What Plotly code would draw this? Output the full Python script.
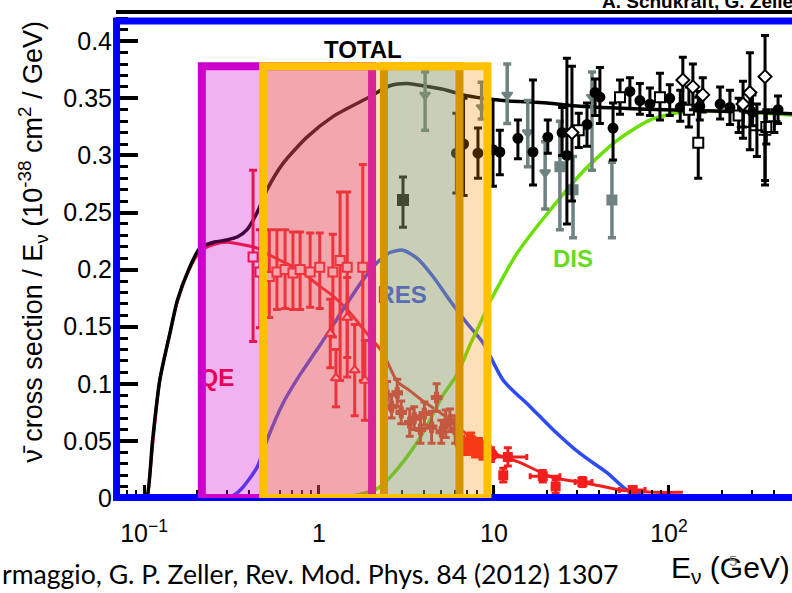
import numpy as np
import plotly.graph_objects as go

# ---------------- theory curves (E in GeV, sigma/E in 1e-38 cm^2/GeV) -------------
total_E = [0.101, 0.104, 0.112, 0.123, 0.141, 0.155, 0.18, 0.209, 0.25, 0.298, 0.345, 0.388,
           0.443, 0.505, 0.623, 0.854, 1.2, 1.88, 2.54, 3.18, 3.93, 5.11, 6.65, 8.65, 11.3,
           20.1, 31.0, 92.4, 178, 431, 600]
total_v = [0.0, 0.001, 0.051, 0.103, 0.145, 0.173, 0.2, 0.219, 0.224, 0.226, 0.229, 0.235,
           0.25, 0.27, 0.293, 0.316, 0.334, 0.35, 0.361, 0.363, 0.361, 0.358, 0.353, 0.35,
           0.348, 0.346, 0.343, 0.340, 0.339, 0.337, 0.336]

qe_E = [0.105, 0.108, 0.113, 0.123, 0.141, 0.155, 0.18, 0.209, 0.25, 0.30, 0.36, 0.44, 0.505,
        0.62, 0.78, 1.0, 1.2, 1.45, 1.88, 2.32, 2.8, 3.3, 3.93, 5.0, 5.83, 7.5, 9.74, 14.1,
        21.7, 34.0, 52.5, 81, 120]
qe_v = [0.0, 0.02, 0.052, 0.103, 0.145, 0.172, 0.199, 0.216, 0.222, 0.224, 0.222, 0.219,
        0.214, 0.207, 0.199, 0.186, 0.177, 0.165, 0.144, 0.127, 0.102, 0.094, 0.085, 0.074,
        0.066, 0.052, 0.040, 0.031, 0.018, 0.013, 0.007, 0.005, 0.005]

res_E = [0.298, 0.331, 0.368, 0.443, 0.505, 0.623, 0.779, 0.974, 1.156, 1.372, 1.784, 2.144,
         2.547, 3.02, 3.63, 4.48, 5.60, 7.01, 8.65, 11.3, 16.1, 21.7, 31.0, 44.4, 57.5, 72.6, 95]
res_v = [0.0, 0.003, 0.0096, 0.027, 0.051, 0.083, 0.108, 0.130, 0.147, 0.165, 0.191, 0.206,
         0.215, 0.217, 0.210, 0.194, 0.173, 0.153, 0.136, 0.103, 0.080, 0.060, 0.039, 0.022,
         0.007, 0.002, 0.0]

dis_E = [1.27, 1.71, 2.14, 2.54, 3.18, 3.93, 5.11, 6.15, 7.29, 8.65, 9.49, 10.8, 13.5, 20.9,
         32.3, 50.4, 77.8, 120, 196, 431, 560]
dis_v = [0.0, 0.003, 0.008, 0.018, 0.036, 0.057, 0.09, 0.108, 0.134, 0.158, 0.172, 0.188,
         0.214, 0.252, 0.286, 0.313, 0.331, 0.338, 0.339, 0.336, 0.335]

# ---------------- data points -------------
qe_sq_E = [0.42, 0.46, 0.52, 0.575, 0.64, 0.71, 0.78, 0.89, 1.01, 1.2, 1.32, 1.45, 1.78]
qe_sq_v = [0.211, 0.198, 0.194, 0.198, 0.200, 0.197, 0.200, 0.198, 0.202, 0.198, 0.208, 0.202, 0.202]
qe_sq_up = [0.076, 0.037, 0.041, 0.037, 0.035, 0.036, 0.033, 0.034, 0.030, 0.033, 0.060, 0.066, 0.090]
qe_sq_dn = [0.074, 0.049, 0.036, 0.033, 0.034, 0.032, 0.035, 0.031, 0.036, 0.057, 0.105, 0.096, 0.099]

qe_tri_E = [1.16, 1.25, 1.45, 1.6, 1.83]
qe_tri_v = [0.144, 0.105, 0.158, 0.112, 0.103]
qe_tri_err = [0.03, 0.025, 0.035, 0.04, 0.035]

mid_E = [2.45, 2.6, 2.8, 2.95, 3.3, 3.5, 3.8, 4.0, 4.4, 4.7, 5.0, 5.3, 5.6, 6.0]
mid_v = [0.09, 0.08, 0.092, 0.075, 0.066, 0.07, 0.06, 0.074, 0.062, 0.088, 0.058, 0.065, 0.068, 0.06]
mid_err = [0.012, 0.01, 0.012, 0.01, 0.012, 0.01, 0.012, 0.01, 0.014, 0.012, 0.01, 0.012, 0.01, 0.012]

hi_circ_E = [6.5, 7.0, 7.4, 7.8, 8.2, 8.6, 9.0, 9.6]
hi_circ_v = [0.048, 0.044, 0.050, 0.042, 0.046, 0.040, 0.043, 0.038]
hi_circ_err = [0.006, 0.006, 0.007, 0.006, 0.006, 0.006, 0.006, 0.006]

hi_sq_E = [11.3, 12.0, 19.0, 22.5, 32.0, 62.0]
hi_sq_v = [0.020, 0.036, 0.019, 0.010, 0.014, 0.007]
hi_sq_err = [0.006, 0.008, 0.005, 0.006, 0.004, 0.003]
hi_sq_xup = [0.0, 3.4, 4.8, 0.0, 4.3, 11.0]
hi_sq_xdn = [0.0, 2.3, 2.9, 0.0, 2.9, 10.0]

blk_circ_E = [6.1, 6.7, 8.1, 9.87, 10.8, 13.7, 16.7, 20.3, 24.5, 26.1, 34.0, 37.8, 40.3, 47.9,
              59.8, 68.2, 77.8, 101, 116, 150, 196, 223, 300, 420]
blk_circ_v = [0.302, 0.31, 0.302, 0.305, 0.303, 0.315, 0.303, 0.316, 0.320, 0.300, 0.327, 0.355,
              0.351, 0.324, 0.356, 0.348, 0.345, 0.350, 0.342, 0.343, 0.345, 0.342, 0.338, 0.34]
blk_circ_up = [0.035, 0.04, 0.022, 0.044, 0.019, 0.016, 0.063, 0.015, 0.022, 0.085, 0.019, 0.012,
               0.026, 0.022, 0.012, 0.015, 0.014, 0.012, 0.015, 0.013, 0.015, 0.015, 0.015, 0.012]
blk_circ_dn = [0.035, 0.045, 0.022, 0.032, 0.020, 0.018, 0.029, 0.014, 0.020, 0.060, 0.019, 0.020,
               0.023, 0.028, 0.015, 0.012, 0.010, 0.015, 0.012, 0.012, 0.013, 0.015, 0.012, 0.012]

blk_sq_E = [3.02, 30.5, 52.5, 88.8, 130, 147, 250, 360]
blk_sq_v = [0.261, 0.322, 0.351, 0.351, 0.34, 0.311, 0.335, 0.325]
blk_sq_up = [0.020, 0.015, 0.015, 0.021, 0.02, 0.040, 0.015, 0.015]
blk_sq_dn = [0.024, 0.015, 0.015, 0.020, 0.015, 0.031, 0.015, 0.015]
blk_sq_fill = ['black', 'white', 'white', 'white', 'white', 'white', 'white', 'white']

blk_dia_E = [27.9, 120, 137, 156, 265, 290, 354]
blk_dia_v = [0.320, 0.366, 0.360, 0.353, 0.345, 0.355, 0.369]
blk_dia_up = [0.058, 0.02, 0.02, 0.015, 0.02, 0.035, 0.036]
blk_dia_dn = [0.06, 0.02, 0.02, 0.015, 0.02, 0.050, 0.095]

blk_x_E = [265, 318, 354, 400]
blk_x_v = [0.325, 0.322, 0.318, 0.33]
blk_x_up = [0.014, 0.023, 0.02, 0.01]
blk_x_dn = [0.01, 0.023, 0.04, 0.01]

gray_tri_E = [4.04, 8.5, 11.9, 15.6, 19.6, 36.3]
gray_tri_v = [0.353, 0.342, 0.353, 0.320, 0.285, 0.351]
gray_tri_up = [0.020, 0.022, 0.027, 0.028, 0.027, 0.022]
gray_tri_dn = [0.031, 0.010, 0.025, 0.030, 0.032, 0.064]

gray_sq_E = [23.8, 28.3, 47.2]
gray_sq_v = [0.290, 0.270, 0.261]
gray_sq_up = [0.040, 0.029, 0.033]
gray_sq_dn = [0.055, 0.042, 0.033]

# energy bands highlighted on the slide (GeV) and their top (sigma/E units)
band_qe = [0.214, 2.01]
band_a = [0.479, 9.18]
band_b = [2.35, 6.35]
band_top = 0.378

x_ticks = [0.1, 1, 10, 100]
x_ticktext = ['10<sup>−1</sup>', '1', '10', '10<sup>2</sup>']
x_minor = [0.08, 0.09, 0.2, 0.3, 0.4, 0.5, 0.6, 0.7, 0.8, 0.9, 2, 3, 4, 5, 6, 7, 8, 9,
           20, 30, 40, 50, 60, 70, 80, 90, 200, 300, 400, 500]
y_ticks = [0, 0.05, 0.1, 0.15, 0.2, 0.25, 0.3, 0.35, 0.4]
y_ticktext = ['0', '0.05', '0.1', '0.15', '0.2', '0.25', '0.3', '0.35', '0.4']

RED = '#F51E1E'
BLUE = '#2D4BF5'
GREEN = '#6AE000'
GRAY = '#6E8282'
FONT = 'Liberation Sans, Arial, sans-serif'

fig = go.Figure()


def curve(E, v, color, width):
    fig.add_trace(go.Scatter(x=E, y=v, mode='lines', hoverinfo='skip',
                             line=dict(color=color, width=width, shape='spline', smoothing=0.7)))


def points(E, v, up, dn, symbol, color, fill, size=8, xup=None, xdn=None, thick=3):
    kw = {}
    if xup is not None:
        kw['error_x'] = dict(type='data', array=xup, arrayminus=xdn, color=color,
                             thickness=thick, width=3)
    fig.add_trace(go.Scatter(
        x=E, y=v, mode='markers', hoverinfo='skip',
        marker=dict(symbol=symbol, color=fill, size=size, line=dict(color=color, width=2)),
        error_y=dict(type='data', array=up, arrayminus=dn, color=color, thickness=thick, width=4),
        **kw))


curve(qe_E, qe_v, RED, 3)
curve(res_E, res_v, BLUE, 3.5)
curve(dis_E, dis_v, GREEN, 3.5)
curve(total_E, total_v, 'black', 3.5)

points(qe_sq_E, qe_sq_v, qe_sq_up, qe_sq_dn, 'square', RED, 'white', 9)
points(qe_tri_E, qe_tri_v, qe_tri_err, qe_tri_err, 'triangle-up', RED, 'white', 9)
points(mid_E, mid_v, mid_err, mid_err, 'cross', RED, RED, 8)
points(hi_circ_E, hi_circ_v, hi_circ_err, hi_circ_err, 'circle', RED, RED, 12)
points(hi_sq_E, hi_sq_v, hi_sq_err, hi_sq_err, 'square', RED, RED, 8, hi_sq_xup, hi_sq_xdn)
points(gray_tri_E, gray_tri_v, gray_tri_up, gray_tri_dn, 'triangle-down', GRAY, GRAY, 9, thick=3.5)
points(gray_sq_E, gray_sq_v, gray_sq_up, gray_sq_dn, 'square', GRAY, GRAY, 9, thick=3.5)
points(blk_circ_E, blk_circ_v, blk_circ_up, blk_circ_dn, 'circle', 'black', 'black', 9)
points(blk_sq_E, blk_sq_v, blk_sq_up, blk_sq_dn, 'square', 'black', blk_sq_fill, 10)
points(blk_dia_E, blk_dia_v, blk_dia_up, blk_dia_dn, 'diamond', 'black', 'white', 10)
points(blk_x_E, blk_x_v, blk_x_up, blk_x_dn, 'cross-thin', 'black', 'black', 9)

# curve labels (traces so that the highlight bands tint them)
labels = [('TOTAL', 1.78, 0.3905, '#000000'), ('QE', 0.261, 0.103, '#F10029'),
          ('RES', 2.98, 0.176, '#2846FA'), ('DIS', 28.3, 0.2075, '#66DD1A')]
for txt, ex, ey, col in labels:
    fig.add_trace(go.Scatter(x=[ex], y=[ey], mode='text', text=['<b>' + txt + '</b>'],
                             textfont=dict(family=FONT, size=24, color=col),
                             textposition='middle center', hoverinfo='skip'))

shapes = [
    # original frame top line
    dict(type='line', xref='paper', yref='paper', x0=0, x1=1, y0=1, y1=1,
         line=dict(color='black', width=4), layer='above'),
    # blue outline drawn over the plot
    dict(type='rect', xref='paper', yref='paper', x0=0.0008, x1=1.05, y0=0.001, y1=0.9815,
         line=dict(color='#0000FF', width=7), fillcolor='rgba(0,0,0,0)', layer='above'),
    dict(type='rect', xref='x', yref='y', x0=band_qe[0], x1=band_qe[1], y0=0, y1=band_top,
         line=dict(color='#CC00CC', width=8), fillcolor='rgba(204,0,204,0.30)', layer='above'),
    dict(type='rect', xref='x', yref='y', x0=band_b[0], x1=band_b[1], y0=0, y1=band_top,
         line=dict(color='#C99800', width=8), fillcolor='rgba(0,176,240,0.28)', layer='above'),
    dict(type='rect', xref='x', yref='y', x0=band_a[0], x1=band_a[1], y0=0, y1=band_top,
         line=dict(color='#FFC000', width=8), fillcolor='rgba(248,135,0,0.27)', layer='above'),
]

annotations = [
    dict(xref='paper', yref='paper', x=-0.1228, y=0.527, textangle=-90, showarrow=False,
         text='ν̄ cross section / E<sub>ν</sub> (10<sup>-38</sup> cm<sup>2</sup> / GeV)',
         font=dict(family=FONT, size=27, color='black'), xanchor='center', yanchor='middle'),
    dict(xref='paper', yref='paper', x=0.818, y=-0.148, showarrow=False, xanchor='left',
         yanchor='middle', text='E<sub>ν</sub> (GeV)', font=dict(family=FONT, size=30, color='black')),
    dict(xref='paper', yref='paper', x=0.9127, y=-0.1276, showarrow=False, text='5',
         xanchor='center', yanchor='middle',
         font=dict(family=FONT, size=15, color='#808080')),
    dict(xref='paper', yref='paper', x=-0.1716, y=-0.156, showarrow=False, xanchor='left',
         yanchor='middle', text='rmaggio, G. P. Zeller, Rev. Mod. Phys. 84 (2012) 1307',
         font=dict(family='Lato, Open Sans, sans-serif', size=26.6, color='black')),
    dict(xref='paper', yref='paper', x=0.716, y=1.0226, showarrow=False, xanchor='left',
         yanchor='middle', text='<b>A. Schukraft, G. Zeller</b>',
         font=dict(family=FONT, size=19, color='black')),
]

fig.update_layout(
    width=792, height=593, margin=dict(l=116, r=0, t=12, b=95, pad=0),
    plot_bgcolor='white', paper_bgcolor='white', showlegend=False,
    shapes=shapes, annotations=annotations,
    xaxis=dict(type='log', range=[-1.16, 2.703], tickmode='array', tickvals=x_ticks,
               ticktext=x_ticktext, ticks='inside', ticklen=13, tickwidth=2.5, tickcolor='black',
               showgrid=False, zeroline=False, showline=False, ticklabelstandoff=18,
               tickfont=dict(family=FONT, size=25, color='black'),
               minor=dict(tickmode='array', tickvals=x_minor, ticks='inside', ticklen=8,
                          tickwidth=2, tickcolor='black', showgrid=False)),
    yaxis=dict(range=[0, 0.4256], tickmode='array', tickvals=y_ticks, ticktext=y_ticktext,
               ticks='inside', ticklen=22, tickwidth=3.5, tickcolor='black', showgrid=False,
               zeroline=False, showline=False, ticklabelstandoff=3,
               tickfont=dict(family=FONT, size=25, color='black'),
               minor=dict(dtick=0.01, tick0=0, ticks='inside', ticklen=12, tickwidth=2.5,
                          tickcolor='black', showgrid=False)),
)

fig.write_html('out.html')
